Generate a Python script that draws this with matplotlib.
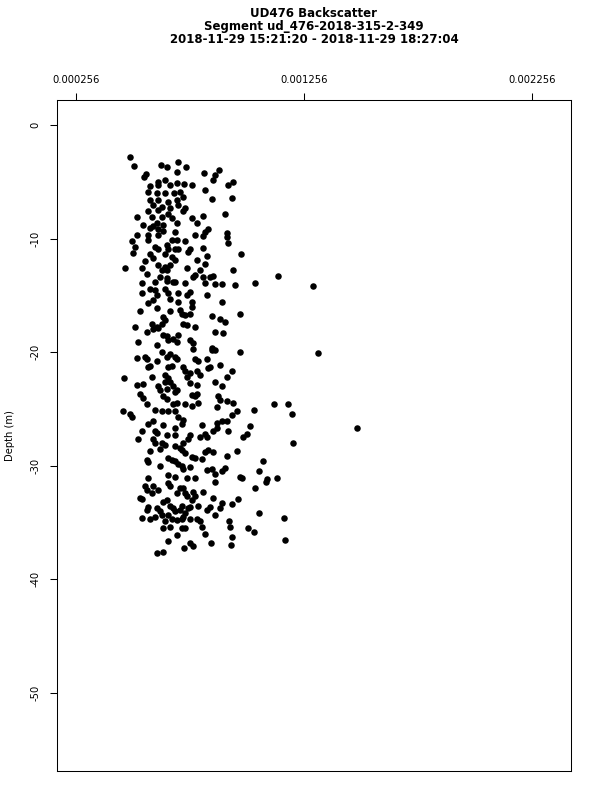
import matplotlib
matplotlib.use("Agg")
import matplotlib.pyplot as plt

plt.rcParams["axes.unicode_minus"] = False
plt.rcParams["font.family"] = "DejaVu Sans"

title_lines = ["UD476 Backscatter",
               "Segment ud_476-2018-315-2-349",
               "2018-11-29 15:21:20 - 2018-11-29 18:27:04"]
y_label = "Depth (m)"
x_ticks = [0.000256, 0.001256, 0.002256]
y_ticks = [0, -10, -20, -30, -40, -50]

# backscatter in units of 1e-6
backscatter_e6 = [
    492, 509, 627, 654, 702, 737, 698, 562, 553, 816,
    882, 864, 856, 614, 645, 579, 614, 667, 698, 728,
    763, 943, 921, 820, 851, 939, 570, 610, 645, 684,
    711, 579, 614, 658, 698, 724, 592, 632, 667, 702,
    733, 570, 614, 658, 724, 522, 588, 632, 676, 763,
    812, 908,
    548, 610, 636, 698, 785, 579, 592, 614, 636, 689,
    834, 820, 917, 917, 522, 570, 570, 614, 676, 698,
    733, 777, 812, 500, 921, 513, 505, 601, 614, 654,
    658, 689, 702, 755, 746, 812, 978, 579, 592, 645,
    676, 689, 785, 829, 820, 557, 614, 645, 667, 470,
    544, 566, 632, 654, 742, 798, 943, 623, 654, 689,
    777, 768, 812, 842, 856, 1141,
    544, 601, 654, 680, 733, 820, 864, 895, 952, 1040,
    1294, 544, 579, 601, 610, 592, 570, 645, 658, 667,
    702, 742, 755, 829, 895, 702, 763, 763, 535, 610,
    667, 711, 720, 733, 755, 974, 851, 886, 908, 636,
    645, 632, 610, 588, 513, 724, 742, 777, 566, 592,
    614, 864, 899, 636, 654, 658, 680, 698, 702, 527,
    610, 755, 768, 851,
    768, 851, 864, 974, 1316, 632, 522, 557, 566, 610,
    579, 570, 654, 667, 689, 698, 658, 676, 777, 790,
    829, 886, 724, 733, 755, 742, 785, 798, 834, 842,
    939, 917, 465, 588, 645, 658, 645, 667, 522, 548,
    614, 623, 654, 680, 698, 689, 755, 785, 864, 895,
    535, 548, 636, 654, 763, 785, 777, 877, 886, 873,
    917, 943, 566, 680, 698, 733, 763, 790, 1035, 1123,
    1185, 461, 492, 601, 632, 658, 689, 961, 1202,
    500, 702, 720, 724, 939, 570, 592, 636, 689, 807,
    873, 895, 917, 1018, 1487, 544, 527, 601, 610, 654,
    689, 746, 755, 798, 820, 829, 856, 873, 921, 1005,
    987, 1206, 592, 601, 632, 645, 689, 711, 724, 720,
    579, 623, 961, 820, 834, 856, 733, 763, 777, 658,
    676, 689, 566, 570, 807, 917, 1075, 623, 702, 720,
    724, 755, 829, 851, 864, 908, 895, 1057, 658, 689,
    742, 777, 570, 974, 983, 1092, 1136,
    864, 1040, 1088, 557, 566, 544, 592, 614, 588, 658,
    667, 698, 711, 724, 733, 742, 768, 777, 763, 812,
    856, 895, 886, 864, 939, 965, 535, 570, 566, 610,
    623, 636, 654, 667, 680, 689, 658, 720, 711, 733,
    724, 746, 790, 755, 829, 842, 544, 579, 601, 632,
    645, 676, 698, 720, 755, 785, 798, 807, 926, 930,
    1057, 1167, 636, 667, 720, 733, 1009, 1035, 698, 820,
    939, 1171, 658, 847, 934, 755, 768, 728, 610, 636,
]

depth_m = [
    -2.8, -3.6, -3.5, -3.7, -3.3, -3.7, -4.1, -4.3, -4.6, -4.2,
    -4.0, -4.4, -4.8, -5.0, -4.8, -5.4, -5.3, -5.3, -5.1, -5.2,
    -5.3, -5.0, -5.3, -5.7, -6.5, -6.4, -5.9, -6.0, -6.0, -6.0,
    -5.9, -6.6, -6.6, -6.8, -6.6, -6.3, -7.0, -7.2, -7.3, -7.0,
    -7.3, -7.6, -7.5, -7.8, -7.6, -8.1, -8.1, -8.1, -8.2, -8.2,
    -8.0, -7.8,
    -8.8, -8.6, -8.8, -8.6, -8.6, -9.1, -8.9, -9.2, -9.3, -9.4,
    -9.2, -9.4, -9.5, -9.9, -9.7, -9.7, -10.1, -9.7, -10.1, -10.1,
    -10.2, -9.7, -9.8, -10.2, -10.4, -10.7, -11.3, -10.7, -10.9, -10.6,
    -10.9, -10.9, -10.9, -10.9, -11.2, -10.8, -11.4, -11.4, -11.7, -11.4,
    -11.6, -11.9, -11.9, -11.5, -12.2, -12.0, -12.3, -12.5, -12.3, -12.6,
    -12.6, -13.1, -12.8, -12.8, -12.6, -12.8, -12.8, -13.4, -13.5, -13.8,
    -13.2, -13.4, -13.4, -13.4, -13.3, -13.3,
    -13.9, -13.8, -13.7, -13.8, -13.9, -13.9, -14.0, -14.0, -14.1, -13.9,
    -14.2, -14.8, -14.4, -14.5, -15.0, -15.4, -15.7, -14.4, -14.8, -15.3,
    -14.8, -15.0, -14.7, -15.0, -15.6, -15.6, -15.6, -16.0, -16.4, -16.1,
    -16.4, -16.3, -16.6, -16.7, -16.6, -16.6, -16.8, -17.1, -17.3, -16.9,
    -17.2, -17.5, -17.8, -17.5, -17.8, -17.5, -17.6, -17.8, -18.2, -18.0,
    -17.9, -18.2, -18.3, -18.5, -18.6, -18.9, -18.8, -19.1, -18.5, -19.1,
    -19.4, -18.9, -19.2, -19.6,
    -19.7, -19.8, -19.8, -20.0, -20.1, -20.0, -20.5, -20.4, -20.6, -20.8,
    -21.2, -21.3, -20.4, -20.2, -20.4, -20.6, -21.3, -21.2, -20.6, -20.8,
    -20.6, -21.1, -21.3, -21.7, -21.8, -22.2, -21.7, -22.0, -21.4, -21.3,
    -21.7, -22.2, -22.3, -22.2, -22.0, -22.3, -22.6, -22.6, -22.9, -22.8,
    -23.0, -23.3, -23.2, -23.0, -23.3, -23.5, -22.7, -22.9, -22.6, -23.0,
    -23.7, -24.0, -23.9, -24.1, -23.8, -23.7, -23.9, -23.9, -24.2, -24.8,
    -24.3, -24.5, -24.6, -24.6, -24.5, -24.6, -24.7, -24.5, -25.1, -24.6,
    -24.6, -25.2, -25.4, -25.1, -25.2, -25.2, -25.2, -25.2, -25.4,
    -25.7, -25.7, -26.3, -26.0, -25.5, -26.3, -26.1, -26.4, -26.7, -26.4,
    -26.2, -26.1, -26.1, -26.5, -26.7, -26.9, -27.6, -26.9, -27.1, -27.3,
    -27.3, -27.6, -27.3, -27.5, -27.2, -27.5, -26.9, -26.7, -26.9, -27.2,
    -27.5, -28.0, -27.6, -28.0, -28.0, -28.2, -28.3, -28.4, -28.0, -28.6,
    -28.7, -28.5, -28.7, -28.8, -28.6, -28.8, -28.9, -29.2, -29.3, -29.3,
    -29.5, -29.6, -29.5, -29.7, -29.4, -29.1, -29.6, -30.0, -29.8, -30.0,
    -30.3, -30.1, -30.4, -30.3, -30.7, -30.2, -30.5, -30.5, -30.8, -31.0,
    -31.1, -31.1, -31.1, -31.0, -31.1, -31.2, -31.1,
    -31.4, -32.0, -31.4, -31.8, -32.1, -32.9, -31.8, -32.1, -32.4, -31.5,
    -31.8, -32.4, -32.0, -32.0, -32.4, -32.7, -32.3, -32.7, -33.0, -32.3,
    -32.8, -33.3, -33.7, -34.3, -33.4, -32.9, -32.8, -33.6, -33.9, -33.7,
    -34.0, -33.2, -33.0, -33.5, -33.7, -34.0, -34.3, -33.5, -33.9, -34.2,
    -34.5, -33.7, -33.5, -33.6, -33.9, -33.6, -34.6, -34.7, -34.5, -34.3,
    -34.9, -34.7, -34.8, -34.7, -34.7, -34.7, -34.9, -35.4, -34.9, -35.4,
    -34.2, -34.6, -35.5, -35.4, -35.5, -35.5, -35.5, -35.8, -36.1, -36.0,
    -36.3, -36.5, -36.6, -36.8, -37.0, -36.8, -37.1, -37.2, -37.7, -37.6,
]

assert len(backscatter_e6) == len(depth_m)
backscatter = [v * 1e-6 for v in backscatter_e6]

fig = plt.figure(figsize=(6, 8), dpi=100)
ax = fig.add_axes([0.0955, 0.03625, 0.856, 0.83875])
ax.scatter(backscatter, depth_m, s=22, c="black", linewidths=0)

ax.set_xlim(0.0001727, 0.0024258)
ax.set_ylim(-56.87, 2.2)

ax.xaxis.tick_top()
ax.set_xticks(x_ticks)
ax.set_xticklabels(["%.6f" % t for t in x_ticks])
ax.tick_params(axis="x", length=5, width=0.75, pad=5.5, labelsize=7.2)

ax.set_yticks(y_ticks)
ax.set_yticklabels([str(t) for t in y_ticks], rotation=90, va="center")
ax.tick_params(axis="y", length=5, width=0.75, pad=7, labelsize=7.2)

for spine in ax.spines.values():
    spine.set_linewidth(0.75)

fig.text(10 / 600, 0.4556, y_label, rotation=90, ha="center", va="center",
         fontsize=7.2)

for i, line in enumerate(title_lines):
    fig.text(314 / 600, 1 - (13.3 + 13 * i) / 800, line, ha="center",
             va="center", fontsize=8.5, fontweight="bold")

fig.savefig("out.png", dpi=100)
